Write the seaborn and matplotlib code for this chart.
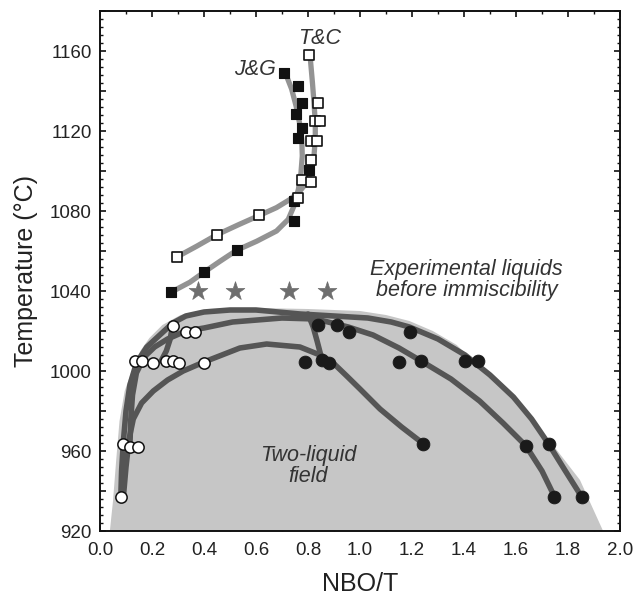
import matplotlib
matplotlib.use("Agg")
import matplotlib.pyplot as plt
from matplotlib.ticker import MultipleLocator, FuncFormatter
import seaborn as sns

# --- J&G liquidus experiments (filled squares) ---
jg_x = [0.273, 0.400, 0.526, 0.746, 0.746, 0.804, 0.762, 0.778, 0.753, 0.777, 0.762, 0.709]
jg_y = [1039.4, 1049.4, 1060.4, 1075.0, 1084.8, 1100.5, 1116.6, 1121.7, 1128.4, 1133.8, 1142.6, 1149.0]
jg_curve_x = [0.273, 0.346, 0.400, 0.462, 0.526, 0.603, 0.679, 0.724, 0.746, 0.763, 0.773, 0.778,
              0.776, 0.767, 0.754, 0.737, 0.712]
jg_curve_y = [1039.4, 1044.4, 1049.4, 1054.9, 1060.4, 1064.9, 1070.0, 1075.8, 1082.5, 1090.8, 1099.2,
              1107.5, 1115.9, 1124.3, 1132.6, 1141.0, 1149.3]

# --- T&C liquidus experiments (open squares) ---
tc_x = [0.297, 0.449, 0.613, 0.763, 0.778, 0.810, 0.810, 0.810, 0.833, 0.828, 0.846, 0.838, 0.805]
tc_y = [1057.1, 1068.1, 1077.8, 1086.5, 1095.4, 1094.5, 1105.4, 1115.0, 1115.0, 1124.9, 1124.9, 1133.8, 1158.0]
tc_curve_x = [0.297, 0.372, 0.449, 0.532, 0.613, 0.679, 0.731, 0.769, 0.795, 0.814, 0.823, 0.828,
              0.828, 0.823, 0.817, 0.808]
tc_curve_y = [1057.1, 1062.4, 1068.1, 1073.1, 1077.8, 1081.7, 1085.8, 1090.0, 1094.2, 1100.9, 1107.5,
              1115.9, 1124.3, 1134.3, 1144.3, 1157.6]

# --- homogeneous liquids just above immiscibility (stars) ---
star_x = [0.376, 0.519, 0.727, 0.874]
star_y = [1040, 1040, 1040, 1040]

# --- immiscible pairs: SiO2-rich (open) and Fe-rich (filled) liquids ---
si_x = [0.279, 0.331, 0.365, 0.135, 0.163, 0.203, 0.254, 0.279, 0.305, 0.400, 0.087, 0.115, 0.147, 0.080]
si_y = [1022.7, 1019.4, 1019.4, 1005.2, 1005.2, 1004.0, 1005.2, 1005.2, 1004.0, 1004.0, 963.4, 962.2, 962.2, 937.2]
fe_x = [0.840, 0.913, 0.956, 1.192, 0.788, 0.855, 0.881, 1.150, 1.235, 1.404, 1.455, 1.244, 1.638, 1.725, 1.748, 1.852]
fe_y = [1023.0, 1023.0, 1019.5, 1019.5, 1004.3, 1005.3, 1004.0, 1004.3, 1005.2, 1005.2, 1005.2, 963.6, 962.6, 963.6, 937.2, 937.2]

# --- two-liquid field outline ---
field_x = [0.038, 0.050, 0.062, 0.075, 0.095, 0.122, 0.155, 0.190, 0.240, 0.310, 0.420, 0.600,
           0.800, 1.000, 1.100, 1.190, 1.280, 1.372, 1.460, 1.590, 1.718, 1.846, 1.935]
field_y = [920, 935, 955, 975, 990, 1000, 1010, 1016.5, 1023, 1028, 1031, 1031.5,
           1031, 1030, 1028, 1025, 1020, 1013, 1002, 985.6, 967, 945.5, 920]

# --- solvus traces linking conjugate liquids ---
solvus_a_x = [0.080, 0.083, 0.090, 0.100, 0.115, 0.140, 0.180, 0.230, 0.280, 0.330, 0.400, 0.500, 0.600,
              0.770, 0.900, 1.030, 1.120, 1.190, 1.300, 1.404, 1.500, 1.590, 1.660, 1.725, 1.790, 1.852]
solvus_a_y = [937.2, 950, 965, 980, 993, 1004, 1012, 1018, 1024, 1027.5, 1029.5, 1030.5, 1030.5,
              1028.5, 1027.5, 1026.5, 1024.5, 1022, 1016, 1008, 998, 987, 976, 963.6, 950, 937.2]
solvus_b_x = [0.115, 0.118, 0.125, 0.140, 0.170, 0.210, 0.260, 0.330, 0.400, 0.510, 0.700, 0.830,
              0.955, 1.050, 1.150, 1.235, 1.350, 1.460, 1.550, 1.638, 1.700, 1.748]
solvus_b_y = [962.2, 975, 988, 999, 1007, 1012, 1016, 1020, 1021.5, 1024.5, 1026.5, 1026,
              1022, 1018, 1011.5, 1005, 996, 985, 974, 962.6, 950, 937.2]
solvus_c_x = [0.090, 0.100, 0.112, 0.128, 0.160, 0.205, 0.260, 0.320, 0.400, 0.538, 0.641, 0.769,
              0.846, 0.897, 0.949, 1.000, 1.077, 1.160, 1.244]
solvus_c_y = [937.2, 952, 966, 976, 984, 990, 995.5, 1000, 1004.5, 1011.5, 1013.5, 1012,
              1008, 1004, 997.5, 991, 981, 972, 963.6]
link_d_x = [0.800, 0.820, 0.835, 0.845, 0.855]
link_d_y = [1028.5, 1022, 1015, 1010, 1005]
link_e_x = [0.279, 0.270, 0.255, 0.235]
link_e_y = [1022.7, 1016, 1010, 1005]

sns.set_theme(style="ticks")
plt.rcParams["font.family"] = ["Liberation Sans", "DejaVu Sans"]
plt.rcParams["axes.linewidth"] = 1.4

fig = plt.figure(figsize=(6.34, 5.96), dpi=100)
ax = fig.add_axes([100 / 634, 1 - 531 / 596, 520 / 634, 520 / 596])

FIELD = "#c6c6c6"
DARK = "#555555"
LIGHT = "#939393"

ax.fill(field_x, field_y, color=FIELD, lw=0, zorder=1)

for cx, cy in [(solvus_a_x, solvus_a_y), (solvus_b_x, solvus_b_y), (solvus_c_x, solvus_c_y),
               (link_d_x, link_d_y), (link_e_x, link_e_y)]:
    sns.lineplot(x=cx, y=cy, sort=False, estimator=None, color=DARK, linewidth=4.0,
                 solid_capstyle="round", solid_joinstyle="round", ax=ax, zorder=2)

for cx, cy in [(jg_curve_x, jg_curve_y), (tc_curve_x, tc_curve_y)]:
    sns.lineplot(x=cx, y=cy, sort=False, estimator=None, color=LIGHT, linewidth=3.8,
                 solid_capstyle="round", solid_joinstyle="round", ax=ax, zorder=2)

sns.scatterplot(x=jg_x, y=jg_y, marker="s", s=62, color="#111111", edgecolor="#111111",
                linewidth=0.8, ax=ax, zorder=4)
sns.scatterplot(x=tc_x, y=tc_y, marker="s", s=58, color="white", edgecolor="#111111",
                linewidth=1.2, ax=ax, zorder=4)
sns.scatterplot(x=star_x, y=star_y, marker="*", s=200, color="#6e6e6e", edgecolor="#6e6e6e",
                linewidth=0.5, ax=ax, zorder=4)
sns.scatterplot(x=fe_x, y=fe_y, marker="o", s=85, color="#1a1a1a", edgecolor="#1a1a1a",
                linewidth=0.6, ax=ax, zorder=4)
sns.scatterplot(x=si_x, y=si_y, marker="o", s=66, color="white", edgecolor="#111111",
                linewidth=1.1, ax=ax, zorder=5)

ax.set_xlim(0, 2.0)
ax.set_ylim(920, 1180)
ax.xaxis.set_major_locator(MultipleLocator(0.2))
ax.xaxis.set_minor_locator(MultipleLocator(0.1))
ax.yaxis.set_major_locator(MultipleLocator(20))
ax.yaxis.set_minor_locator(MultipleLocator(4))
ax.xaxis.set_major_formatter(FuncFormatter(lambda v, p: f"{v:.1f}"))
ax.yaxis.set_major_formatter(FuncFormatter(lambda v, p: f"{int(round(v))}" if round(v) % 40 == 0 and v < 1170 else ""))

ax.tick_params(which="both", direction="in", top=True, right=True, colors="#111111",
               labelcolor="#222222", labelsize=13.5)
ax.tick_params(which="major", length=4.5, width=1.2)
ax.tick_params(which="minor", length=2.5, width=1.0)
ax.tick_params(axis="x", pad=8)
ax.tick_params(axis="y", pad=6)
for sp in ax.spines.values():
    sp.set_visible(True)
    sp.set_color("#111111")
    sp.set_zorder(6)

ax.set_xlabel("NBO/T", fontsize=18, color="#222222")
ax.set_ylabel("Temperature (°C)", fontsize=18, color="#222222")
ax.xaxis.set_label_coords(0.5, -0.078)
ax.yaxis.set_label_coords(-0.12, 0.5)

note = dict(style="italic", fontsize=15.5, color="#333333", zorder=6)
ax.text(0.595, 1151, "J&G", ha="center", va="center", **note)
ax.text(0.846, 1166.5, "T&C", ha="center", va="center", **note)
ax.text(1.41, 1045.5, "Experimental liquids\nbefore immiscibility", ha="center", va="center",
        linespacing=1.0, **note)
ax.text(0.80, 952.5, "Two-liquid\nfield", ha="center", va="center", linespacing=1.0, **note)

fig.savefig("out.png", dpi=100)
